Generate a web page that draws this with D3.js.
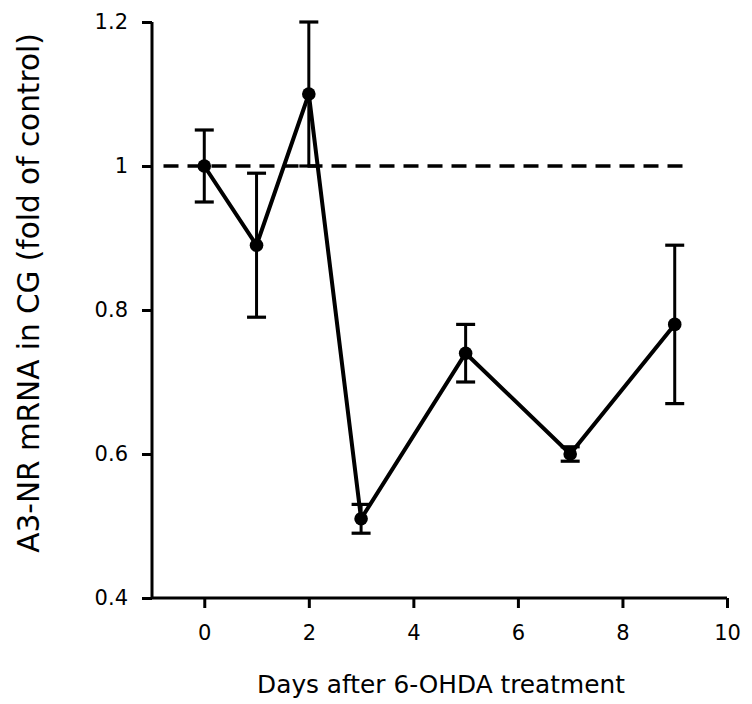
<!DOCTYPE html>
<html><head><meta charset="utf-8">
<script src="https://cdn.jsdelivr.net/npm/d3@7"></script>
<style>body{margin:0;background:#fff}</style>
</head><body>
<script>
const days = [0, 1, 2, 3, 5, 7, 9];
const values = [1.0, 0.89, 1.10, 0.51, 0.74, 0.60, 0.78];
const errors = [0.05, 0.10, 0.10, 0.02, 0.04, 0.01, 0.11];
const xTicks = [0, 2, 4, 6, 8, 10];
const yTicks = [0.4, 0.6, 0.8, 1.0, 1.2];
const yTickLabels = ["0.4", "0.6", "0.8", "1", "1.2"];
const controlLevel = 1.0;
const xTitle = "Days after 6-OHDA treatment";
const yTitle = "A3-NR mRNA in CG (fold of control)";

const W = 752, H = 704;
const svg = d3.select("body").append("svg").attr("width", W).attr("height", H);
const x = d3.scaleLinear().domain([-1, 10]).range([152, 727]);
const y = d3.scaleLinear().domain([0.4, 1.2]).range([598, 22]);
const font = "DejaVu Sans, Verdana, sans-serif";

// axes
const yAxis = svg.append("g").attr("transform", `translate(${x(-1)},0)`)
  .call(d3.axisLeft(y).tickValues(yTicks).tickFormat((d,i)=>yTickLabels[i]).tickSize(10).tickPadding(14));
const xAxis = svg.append("g").attr("transform", `translate(0,${y(0.4)})`)
  .call(d3.axisBottom(x).tickValues(xTicks).tickSize(10).tickPadding(17));
[yAxis, xAxis].forEach(g => {
  g.select(".domain").attr("stroke", "#000").attr("stroke-width", 3);
  g.selectAll(".tick line").attr("stroke", "#000").attr("stroke-width", 3);
  g.selectAll(".tick text").attr("font-family", font).attr("font-size", 21).attr("fill", "#000");
});
yAxis.select(".domain").attr("d", `M0,${y(1.2)}V${y(0.4)}`);
xAxis.select(".domain").attr("d", `M${x(-1)},0H${x(10)}`);

// dashed control line
svg.append("line")
  .attr("x1", x(-0.78)).attr("x2", x(9.15))
  .attr("y1", y(controlLevel)).attr("y2", y(controlLevel))
  .attr("stroke", "#000").attr("stroke-width", 3.3).attr("stroke-dasharray", "15,9");

// error bars
const eb = svg.append("g").attr("stroke", "#000").attr("stroke-width", 3);
days.forEach((d, i) => {
  const cx = x(d), top = y(values[i] + errors[i]), bot = y(values[i] - errors[i]);
  eb.append("line").attr("x1", cx).attr("x2", cx).attr("y1", top).attr("y2", bot);
  eb.append("line").attr("x1", cx - 9.5).attr("x2", cx + 9.5).attr("y1", top).attr("y2", top).attr("stroke-width", 3.2);
  eb.append("line").attr("x1", cx - 9.5).attr("x2", cx + 9.5).attr("y1", bot).attr("y2", bot).attr("stroke-width", 3.2);
});

// line
const line = d3.line().x((d,i)=>x(days[i])).y(d=>y(d));
svg.append("path").datum(values).attr("d", line)
  .attr("fill", "none").attr("stroke", "#000").attr("stroke-width", 4).attr("stroke-linejoin", "miter");

// points
svg.append("g").selectAll("circle").data(values).join("circle")
  .attr("cx", (d,i)=>x(days[i])).attr("cy", d=>y(d)).attr("r", 6.8).attr("fill", "#000");

// titles
svg.append("text").attr("x", 441).attr("y", 693).attr("text-anchor", "middle")
  .attr("font-family", font).attr("font-size", 24.8).attr("fill", "#000").text(xTitle);
svg.append("text").attr("transform", `translate(39,293) rotate(-90)`).attr("text-anchor", "middle")
  .attr("font-family", font).attr("font-size", 29.5).attr("fill", "#000").text(yTitle);
</script>
</body></html>
